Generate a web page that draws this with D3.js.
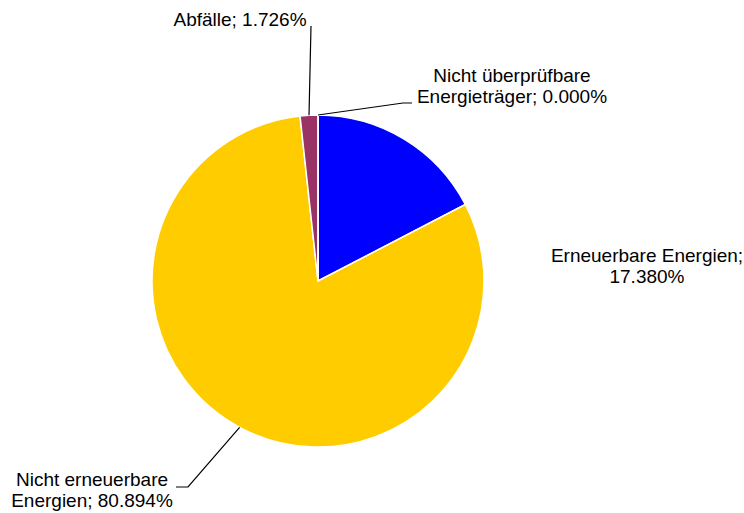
<!DOCTYPE html>
<html><head><meta charset="utf-8">
<script src="https://cdn.jsdelivr.net/npm/d3@7"></script>
<style>body{margin:0;background:#fff}svg{display:block}</style>
</head><body>
<svg id="c" width="744" height="513"></svg>
<script>
const categories = ["Erneuerbare Energien", "Nicht erneuerbare Energien", "Abfälle", "Nicht überprüfbare Energieträger"];
const values = [17.380, 80.894, 1.726, 0.000];
const colors = ["#0000FF", "#FFCC00", "#993366", "#00CCFF"];
const labelLines = [
  ["Erneuerbare Energien;", "17.380%"],
  ["Nicht erneuerbare", "Energien; 80.894%"],
  ["Abfälle; 1.726%"],
  ["Nicht überprüfbare", "Energieträger; 0.000%"]
];

const W = 744, H = 513, cx = 318, cy = 281, R = 166;
const svg = d3.select("#c");
const g = svg.append("g").attr("transform", `translate(${cx},${cy})`);
const data = categories.map((c, i) => ({c, v: values[i], i}));
const pie = d3.pie().value(d => d.v).sort(null);
const arcs = pie(data);
const arc = d3.arc().innerRadius(0).outerRadius(R);

g.selectAll("path.s").data(arcs).enter().append("path")
  .attr("d", arc).attr("fill", d => colors[d.data.i])
  .attr("stroke", "#fff").attr("stroke-width", 1.5).attr("stroke-linejoin", "round");

const layout = [
  {x: 647, y: 262, lead: null},
  {x: 92, y: 486, lead: [[-130, 206], [-142, 206]]},
  {x: 240, y: 26, lead: [[-7, -255]]},
  {x: 512, y: 82, lead: [[85, -178], [94, -178]]}
];
const lh = 21;
function outer(a) { const m = (a.startAngle + a.endAngle) / 2; return [R * Math.sin(m), -R * Math.cos(m)]; }

arcs.forEach((a, k) => {
  const L = layout[k];
  if (L.lead) {
    const pts = [outer(a)].concat(L.lead);
    g.append("path").attr("d", d3.line()(pts)).attr("fill", "none")
      .attr("stroke", "#000").attr("stroke-width", 1.2);
  }
  const t = svg.append("text").attr("x", L.x).attr("y", L.y)
    .attr("text-anchor", "middle")
    .attr("font-family", "Liberation Sans, Arial, sans-serif")
    .attr("font-size", 19).attr("fill", "#000");
  labelLines[k].forEach((s, j) => {
    t.append("tspan").attr("x", L.x).attr("dy", j === 0 ? 0 : lh).text(s);
  });
});
</script>
</body></html>
